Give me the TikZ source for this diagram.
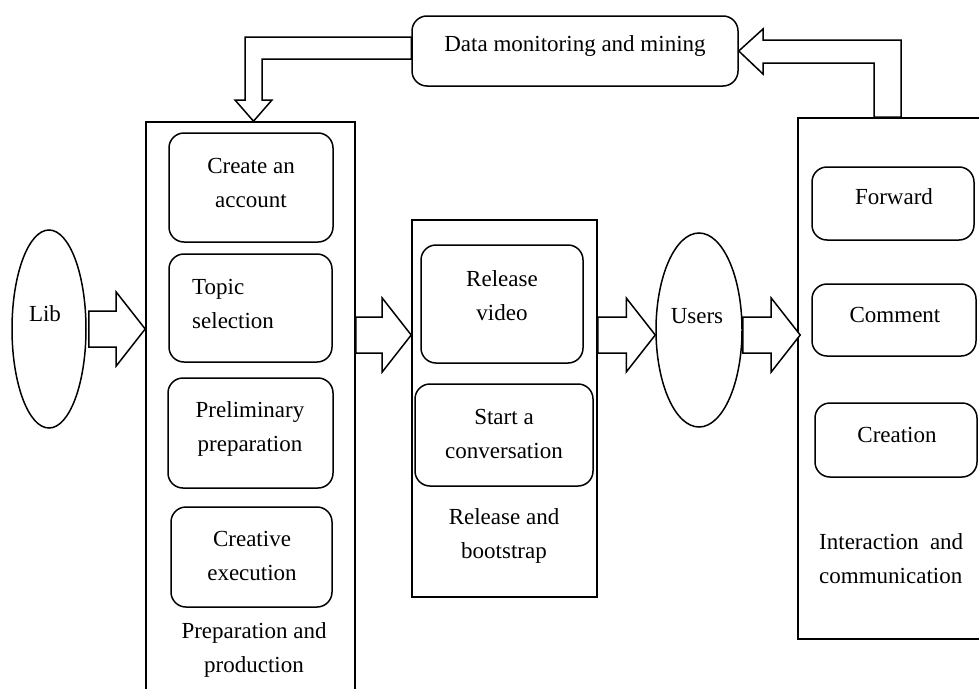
\documentclass[tikz,border=0pt]{standalone}
\usepackage{fontspec}
\setmainfont{Liberation Serif}
\usetikzlibrary{calc,shapes.geometric}
\newcommand\boxat[6]{\node[#6, minimum width={(#4-#2)*1pt}, minimum height={(#5-#3)*1pt}] (#1) at ({(#2+#4)/2},{(#3+#5)/2}) {};}
\newcommand\rarrow[2]{\draw[barrow] let \p1=(#1), \p2=(#2) in
  (\x1,\y2+18pt) -- (\x2-29pt,\y2+18pt) -- (\x2-29pt,\y2+37pt) -- (\x2,\y2) --
  (\x2-29pt,\y2-37pt) -- (\x2-29pt,\y2-18pt) -- (\x1,\y2-18pt) -- cycle;}
\begin{document}
\begin{tikzpicture}[x=1pt,y=-1pt,
  every node/.style={font=\fontsize{23}{34}\selectfont},
  bigbox/.style={draw, line width=1.6pt, inner sep=0},
  rbox/.style={draw, line width=1.5pt, rounded corners=15pt, inner sep=0},
  oval/.style={draw, ellipse, line width=1.5pt, inner sep=0},
  txt/.style={align=center, inner sep=0},
  barrow/.style={draw, line width=1.5pt, fill=white, line join=miter},
]
\useasboundingbox[fill=white] (0,0) rectangle (979,688);
% boxes
\boxat{data}{412}{16}{738}{86}{rbox}
\boxat{prep}{146}{122}{355}{700}{bigbox}
\boxat{acct}{169}{133}{333}{242}{rbox}
\boxat{topic}{169}{254}{332}{362}{rbox}
\boxat{prelim}{168}{378}{333}{488}{rbox}
\boxat{creative}{171}{507}{332}{607}{rbox}
\boxat{rel}{412}{220}{597}{597}{bigbox}
\boxat{video}{421}{245}{583}{363}{rbox}
\boxat{conv}{415}{384}{593}{486}{rbox}
\boxat{inter}{798}{118}{995}{639}{bigbox}
\boxat{fwd}{812}{167}{974}{240}{rbox}
\boxat{comment}{812}{284}{976}{356}{rbox}
\boxat{creation}{815}{403}{977}{477}{rbox}
\node[oval, minimum width=74pt, minimum height=198pt] (lib) at (49,329) {};
\node[oval, minimum width=86pt, minimum height=194pt] (users) at (699,330) {};
% texts
\node[txt] (t-data) at (575,46) {Data monitoring and mining};
\node[txt] (t-lib) at (45,314) {Lib};
\node[txt] (t-users) at (697,316) {Users};
\node[txt] (t-acct) at (251,183) {Create an\\account};
\node[txt, align=left, anchor=west] (t-topic) at (192,303.5) {Topic\\selection};
\node[txt] (t-prelim) at (250,428.5) {Preliminary\\preparation};
\node[txt] (t-creative) at (252,556) {Creative\\execution};
\node[txt] (t-prep) at (254,649.5) {Preparation and\\production};
\node[txt] (t-video) at (502,295.5) {Release\\video};
\node[txt] (t-conv) at (504,433.5) {Start a\\conversation};
\node[txt] (t-rel) at (504,535.5) {Release and\\bootstrap};
\node[txt] (t-fwd) at (894,197) {Forward};
\node[txt] (t-comment) at (895,315) {Comment};
\node[txt] (t-creation) at (897,435) {Creation};
\node[txt, align=left, anchor=west] (t-inter) at (819,558.5) {\makebox[144pt][s]{Interaction and}\\communication};
% block arrows
\coordinate (r) at (0,335);
\rarrow{$(lib.east)+(2,0)$}{lib.east -| prep.west}
\rarrow{prep.east |- r}{rel.west |- r}
\rarrow{rel.east |- r}{users.west |- r}
\rarrow{users.east |- r}{$(inter.west |- r)+(3,0)$}
\draw[barrow] ($(inter.north west)+(77,0)$) |- (763,63) -- (763,74) -- (data.east)
  -- (763,29) -- (763,40) -| ($(inter.north west)+(104,0)$) -- cycle;
\draw[barrow] ($(data.west)+(0,-14)$) -| (245,100) -- (235,100) -- ($(prep.north)+(3,0)$)
  -- (272,100) -- (262,100) |- ($(data.west)+(0,8)$) -- cycle;
\end{tikzpicture}
\end{document}
